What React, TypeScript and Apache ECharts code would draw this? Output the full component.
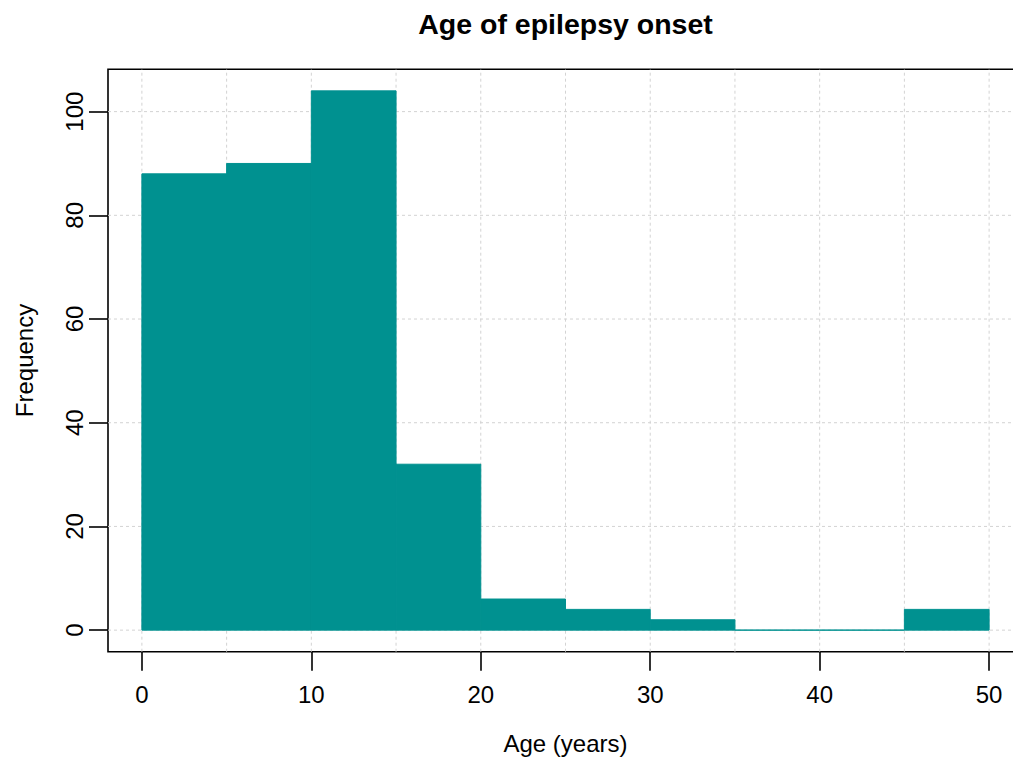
import React, { useEffect, useRef } from "react";
import * as echarts from "echarts";

// Histogram bins (years) and counts
const binStarts = [0, 5, 10, 15, 20, 25, 30, 35, 40, 45];
const binEnds = [5, 10, 15, 20, 25, 30, 35, 40, 45, 50];
const counts = [88, 90, 104, 32, 6, 4, 2, 0, 0, 4];

const xTicks = [0, 10, 20, 30, 40, 50];
const yTicks = [0, 20, 40, 60, 80, 100];
const xGrid = [0, 5, 10, 15, 20, 25, 30, 35, 40, 45, 50];
const yGrid = [0, 20, 40, 60, 80, 100];

const X_MIN = -2;
const X_MAX = 52;
const Y_MIN = -4.16;
const Y_MAX = 108.16;

const FONT = "Liberation Sans, Arial, sans-serif";
const BAR = "#009190";

export default function App() {
  const ref = useRef<HTMLDivElement>(null);

  useEffect(() => {
    if (!ref.current) return;
    const chart = echarts.init(ref.current, undefined, { renderer: "svg" });

    const barData = binStarts.map((s, i) => [s, binEnds[i], counts[i]]);
    const gridData = [
      ...xGrid.map((v) => ["v", v]),
      ...yGrid.map((v) => ["h", v]),
    ];

    chart.setOption({
      animation: false,
      backgroundColor: "#ffffff",
      textStyle: { fontFamily: FONT },
      grid: {
        left: 108,
        top: 69.3,
        width: 915,
        height: 582.4,
        outerBoundsMode: "none",
        containLabel: false,
        show: true,
        borderColor: "#000000",
        borderWidth: 1.6,
        backgroundColor: "transparent",
      },
      xAxis: {
        type: "value",
        min: X_MIN,
        max: X_MAX,
        name: "Age (years)",
        nameLocation: "middle",
        nameGap: 80,
        nameTextStyle: { color: "#000", fontSize: 24, fontFamily: FONT },
        axisLine: { show: false, onZero: false },
        splitLine: { show: false },
        axisTick: {
          show: true,
          length: 19,
          customValues: xTicks,
          lineStyle: { color: "#000", width: 1.6 },
        },
        axisLabel: {
          customValues: xTicks,
          color: "#000",
          fontSize: 24,
          fontFamily: FONT,
          margin: 31,
        },
      },
      yAxis: {
        type: "value",
        min: Y_MIN,
        max: Y_MAX,
        name: "Frequency",
        nameLocation: "middle",
        nameRotate: 90,
        nameGap: 72,
        nameTextStyle: { color: "#000", fontSize: 24, fontFamily: FONT },
        axisLine: { show: false, onZero: false },
        splitLine: { show: false },
        axisTick: {
          show: true,
          length: 19,
          customValues: yTicks,
          lineStyle: { color: "#000", width: 1.6 },
        },
        axisLabel: {
          customValues: yTicks,
          color: "#000",
          fontSize: 24,
          fontFamily: FONT,
          rotate: 90,
          margin: 22,
        },
      },
      graphic: [
        {
          type: "text",
          x: 565.5,
          y: 24,
          style: {
            text: "Age of epilepsy onset",
            fill: "#000",
            font: "bold 28.5px " + FONT,
            textAlign: "center",
            textVerticalAlign: "middle",
          },
        },
      ],
      series: [
        {
          type: "custom",
          name: "grid",
          z: 1,
          silent: true,
          data: gridData,
          encode: { x: 1, y: 1 },
          renderItem: (params: any, api: any) => {
            const kind = gridData[params.dataIndex][0];
            const v = gridData[params.dataIndex][1] as number;
            let p1, p2;
            if (kind === "v") {
              p1 = api.coord([v, Y_MIN]);
              p2 = api.coord([v, Y_MAX]);
            } else {
              p1 = api.coord([X_MIN, v]);
              p2 = api.coord([X_MAX, v]);
            }
            return {
              type: "line",
              shape: { x1: p1[0], y1: p1[1], x2: p2[0], y2: p2[1] },
              style: { stroke: "#d3d3d3", lineWidth: 1, lineDash: [3, 3] },
            };
          },
        },
        {
          type: "custom",
          name: "Frequency",
          z: 2,
          data: barData,
          encode: { x: [0, 1], y: 2 },
          renderItem: (params: any, api: any) => {
            const s = api.value(0);
            const e = api.value(1);
            const c = api.value(2);
            const tl = api.coord([s, c]);
            const br = api.coord([e, 0]);
            return {
              type: "rect",
              shape: {
                x: tl[0],
                y: tl[1],
                width: br[0] - tl[0],
                height: br[1] - tl[1],
              },
              style: { fill: BAR, stroke: BAR, lineWidth: 1 },
            };
          },
        },
      ],
    });

    return () => chart.dispose();
  }, []);

  return (
    <div
      style={{
        position: "absolute",
        left: 0,
        top: 0,
        width: 1013,
        height: 757,
        overflow: "hidden",
      }}
    >
      <div ref={ref} style={{ width: 1040, height: 757 }} />
    </div>
  );
}
